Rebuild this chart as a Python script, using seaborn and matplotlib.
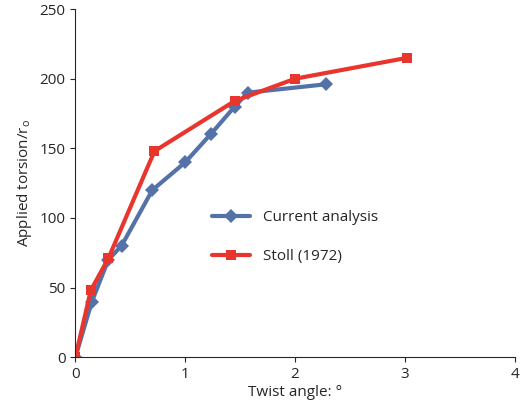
import matplotlib
matplotlib.use("Agg")
import matplotlib.pyplot as plt
import seaborn as sns
import pandas as pd

cur_x = [0, 0.15, 0.3, 0.42, 0.7, 1.0, 1.23, 1.45, 1.57, 2.28]
cur_y = [0, 40, 70, 80, 120, 140, 160, 180, 190, 196]
stoll_x = [0, 0.14, 0.3, 0.72, 1.45, 2.0, 3.02]
stoll_y = [0, 48, 71, 148, 184, 200, 215]

sns.set_style("ticks")
plt.rcParams['font.family'] = ['Open Sans', 'DejaVu Sans']

df = pd.concat([
    pd.DataFrame({"x": cur_x, "y": cur_y, "s": "Current analysis"}),
    pd.DataFrame({"x": stoll_x, "y": stoll_y, "s": "Stoll (1972)"}),
])

fig, ax = plt.subplots(figsize=(5.2, 4.13), dpi=100)
sns.lineplot(data=df, x="x", y="y", hue="s", style="s", sort=False,
             palette={"Current analysis": "#5572a8", "Stoll (1972)": "#e8352e"},
             markers={"Current analysis": "D", "Stoll (1972)": "s"}, dashes=False,
             linewidth=3, markersize=7, markeredgewidth=0, ax=ax)
ax.set_xlim(0, 4)
ax.set_ylim(0, 250)
ax.set_xticks([0, 1, 2, 3, 4])
ax.set_yticks(range(0, 251, 50))
ax.set_xlabel("Twist angle: °", fontsize=11, labelpad=2)
ax.set_ylabel("Applied torsion/r$_\\mathregular{o}$", fontsize=11)
ax.tick_params(labelsize=11)
sns.despine(ax=ax)
ax.legend(title=None, frameon=False, fontsize=11, loc="center left",
          bbox_to_anchor=(0.28, 0.345), handlelength=2.5, labelspacing=1.6)
fig.subplots_adjust(left=0.145, right=0.99, top=0.978, bottom=0.135)
fig.savefig("out.png", dpi=100)
